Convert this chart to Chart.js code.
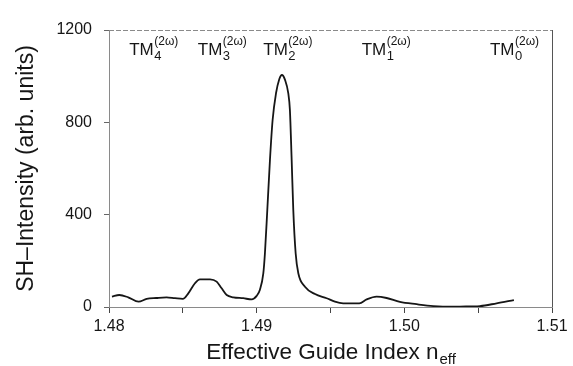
<!DOCTYPE html>
<html>
<head>
<meta charset="utf-8">
<script src="https://cdn.jsdelivr.net/npm/chart.js@4.4.0/dist/chart.umd.min.js"></script>
<style>
  body { margin: 0; background: #fff; }
  #wrap { width: 573px; height: 366px; }
</style>
</head>
<body>
<div id="wrap"><canvas id="shChart"></canvas></div>
<script>
const inkColor = '#161616'
const frameColor = '#8a8a8a'
const fontFamily = "'Liberation Sans', Arial, Helvetica, sans-serif"

// effective guide index and measured SH intensity
const neff = [1.4802, 1.4807, 1.4813, 1.4820, 1.48255, 1.4832, 1.4839, 1.48447, 1.4850, 1.48537,
  1.48582, 1.48616, 1.48684, 1.48729, 1.48763, 1.48797, 1.48842, 1.48909, 1.48966, 1.4900,
  1.49022, 1.49045, 1.49056, 1.49072, 1.4909, 1.49108, 1.49131, 1.49153, 1.49171, 1.49192,
  1.49214, 1.49225, 1.49237, 1.49248, 1.49264, 1.49282, 1.49327, 1.49395, 1.49474, 1.4953,
  1.49586, 1.49695, 1.49745, 1.49812, 1.4988, 1.4997, 1.50083, 1.50196, 1.5033, 1.50376,
  1.50512, 1.50625, 1.50742]
const intensity = [45, 52, 42, 23, 35, 39, 42, 38, 35, 59,
  103, 120, 120, 110, 81, 52, 42, 38, 33, 48,
  75, 146, 233, 420, 637, 810, 926, 987, 1005, 984,
  926, 854, 637, 420, 233, 146, 88, 56, 38, 23,
  16, 16, 33, 45, 39, 22, 12, 4, 1, 2,
  4, 16, 30]

// mode labels TM_m^(2w) and where they sit along the x axis
const modeOrders = ['4', '3', '2', '1', '0']
const modeLabelAt = [1.48137, 1.48601, 1.49045, 1.49711, 1.5058]

const xTicks = [1.48, 1.49, 1.50, 1.51]
const yTicks = [0, 400, 800, 1200]

const points = neff.map((x, i) => ({ x: x, y: intensity[i] }))

// top + right frame, mode labels and x title with subscript
const decorations = {
  id: 'decorations',
  afterDraw(chart) {
    const { ctx, chartArea: a, scales } = chart
    ctx.save()
    ctx.strokeStyle = frameColor
    ctx.lineWidth = 1
    ctx.setLineDash([5, 2])
    ctx.beginPath()
    ctx.moveTo(a.left, a.top + 0.5)
    ctx.lineTo(a.right, a.top + 0.5)
    ctx.stroke()
    ctx.setLineDash([])
    ctx.strokeStyle = '#555'
    ctx.beginPath()
    ctx.moveTo(a.right + 0.5, a.top)
    ctx.lineTo(a.right + 0.5, a.bottom)
    ctx.stroke()

    ctx.fillStyle = inkColor
    ctx.textBaseline = 'alphabetic'
    ctx.textAlign = 'left'
    const base = a.top + 25
    modeOrders.forEach((m, i) => {
      const x = scales.x.getPixelForValue(modeLabelAt[i])
      ctx.font = '17px ' + fontFamily
      ctx.fillText('TM', x, base)
      const w = ctx.measureText('TM').width
      ctx.font = '13px ' + fontFamily
      ctx.fillText(m, x + w + 0.5, base + 5)
      ctx.font = '12px ' + fontFamily
      ctx.fillText('(2\u03c9)', x + w + 0.5, base - 10)
    })

    // x axis title
    const main = 'Effective Guide Index n'
    const sub = 'eff'
    ctx.font = '22.5px ' + fontFamily
    const wMain = ctx.measureText(main).width
    ctx.font = '15px ' + fontFamily
    const wSub = ctx.measureText(sub).width
    const start = (a.left + a.right) / 2 - (wMain + wSub) / 2
    ctx.font = '22.5px ' + fontFamily
    ctx.fillText(main, start, 359)
    ctx.font = '15px ' + fontFamily
    ctx.fillText(sub, start + wMain + 1, 364)
    ctx.restore()
  }
}

new Chart(document.getElementById('shChart'), {
  type: 'line',
  data: {
    datasets: [{
      data: points,
      borderColor: inkColor,
      borderWidth: 1.8,
      pointRadius: 0,
      fill: false,
      cubicInterpolationMode: 'monotone'
    }]
  },
  options: {
    responsive: true,
    maintainAspectRatio: false,
    animation: false,
    layout: { padding: { top: 30, right: 21, left: 0, bottom: 0 } },
    plugins: { legend: { display: false }, tooltip: { enabled: false } },
    scales: {
      x: {
        type: 'linear',
        min: 1.48,
        max: 1.51,
        afterFit: (scale) => { scale.height = 59 },
        afterBuildTicks: (scale) => {
          scale.ticks = [1.48, 1.485, 1.49, 1.495, 1.50, 1.505, 1.51].map(v => ({ value: v }))
        },
        ticks: {
          color: inkColor,
          font: { family: fontFamily, size: 16 },
          padding: 4,
          maxRotation: 0,
          autoSkip: false,
          callback: (v) => {
            const hit = xTicks.find(t => Math.abs(t - v) < 1e-6)
            return hit === undefined ? '' : hit.toFixed(2)
          }
        },
        grid: { drawOnChartArea: false, tickLength: 6, color: '#444' },
        border: { display: true, color: frameColor, dash: [6, 2] },
        title: { display: false }
      },
      y: {
        min: 0,
        max: 1200,
        afterFit: (scale) => { scale.width = 109 },
        afterBuildTicks: (scale) => {
          scale.ticks = yTicks.map(v => ({ value: v }))
        },
        ticks: {
          color: inkColor,
          font: { family: fontFamily, size: 16 },
          padding: 12,
          callback: (v) => String(v)
        },
        grid: { drawOnChartArea: false, tickLength: 5, color: '#666' },
        border: { display: true, color: frameColor, dash: [6, 2] },
        title: {
          display: true,
          text: 'SH\u2013Intensity (arb. units)',
          color: inkColor,
          font: { family: fontFamily, size: 23 },
          padding: { top: 13, bottom: 0 }
        }
      }
    }
  },
  plugins: [decorations]
})
</script>
</body>
</html>
